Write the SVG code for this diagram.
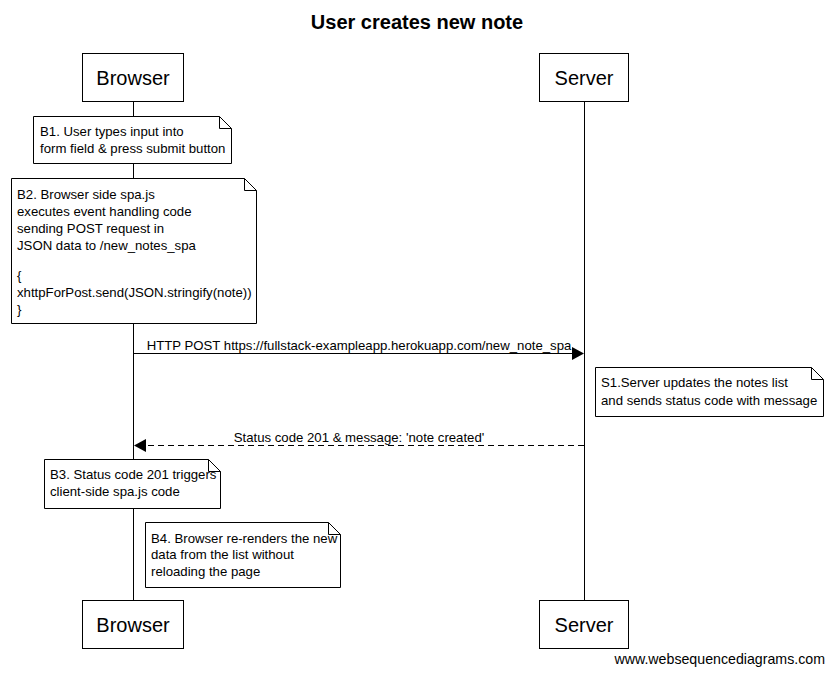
<svg xmlns="http://www.w3.org/2000/svg" width="833" height="673" viewBox="0 0 833 673">
<defs>
<style>
text{font-family:"Liberation Sans",Arial,sans-serif;fill:#000}
.title{font-size:20px;font-weight:bold;text-anchor:middle}
.actor rect{fill:#fff;stroke:#000;stroke-width:1}
.actor text{font-size:20px;text-anchor:middle}
.note path{fill:#fff;stroke:#000;stroke-width:1}
.note text{font-size:13.2px}
.life{stroke:#000;stroke-width:1}
.msg{stroke:#000;stroke-width:1;fill:none}
.dash{stroke-dasharray:6,4}
.lbl{font-size:13.2px;text-anchor:middle}
.wm{font-size:14.2px;text-anchor:end}
</style>
</defs>
<rect width="833" height="673" fill="#fff"/>
<text class="title" x="417" y="29">User creates new note</text>

<g id="lifelines">
<line class="life" x1="133.5" y1="102" x2="133.5" y2="600"/>
<line class="life" x1="584.5" y1="102" x2="584.5" y2="600"/>
</g>

<g id="browser-top" class="actor"><rect x="82.5" y="53.5" width="101" height="48"/><text x="133" y="85">Browser</text></g>
<g id="server-top" class="actor"><rect x="539.5" y="53.5" width="89" height="48"/><text x="584" y="85">Server</text></g>
<g id="browser-bottom" class="actor"><rect x="82.5" y="600.5" width="101" height="48"/><text x="133" y="632">Browser</text></g>
<g id="server-bottom" class="actor"><rect x="539.5" y="600.5" width="89" height="48"/><text x="584" y="632">Server</text></g>

<g id="note-b1" class="note">
<path d="M33.5,116.5 H219.5 L231.5,128.5 V163.5 H33.5 Z M219.5,116.5 V128.5 H231.5"/>
<text x="40" y="136">B1. User types input into</text>
<text x="40" y="153">form field &amp; press submit button</text>
</g>

<g id="note-b2" class="note">
<path d="M11.5,178.5 H244.5 L256.5,190.5 V323.5 H11.5 Z M244.5,178.5 V190.5 H256.5"/>
<text x="17" y="199">B2. Browser side spa.js</text>
<text x="17" y="216">executes event handling code</text>
<text x="17" y="233">sending POST request in</text>
<text x="17" y="250">JSON data to /new_notes_spa</text>
<text x="17" y="280">{</text>
<text x="17" y="297">xhttpForPost.send(JSON.stringify(note))</text>
<text x="17" y="314">}</text>
</g>

<g id="note-s1" class="note">
<path d="M595.5,367.5 H811.5 L823.5,379.5 V416.5 H595.5 Z M811.5,367.5 V379.5 H823.5"/>
<text x="601" y="387">S1.Server updates the notes list</text>
<text x="601" y="405">and sends status code with message</text>
</g>

<g id="note-b3" class="note">
<path d="M44.5,459.5 H208.5 L220.5,471.5 V508.5 H44.5 Z M208.5,459.5 V471.5 H220.5"/>
<text x="50" y="479">B3. Status code 201 triggers</text>
<text x="50" y="496">client-side spa.js code</text>
</g>

<g id="note-b4" class="note">
<path d="M145.5,522.5 H328.5 L340.5,534.5 V587.5 H145.5 Z M328.5,522.5 V534.5 H340.5"/>
<text x="151" y="543">B4. Browser re-renders the new</text>
<text x="151" y="559">data from the list without</text>
<text x="151" y="576">reloading the page</text>
</g>

<g id="connectors">
<line class="msg" x1="133" y1="353.5" x2="573" y2="353.5"/>
<polygon points="572,347 584,353.5 572,360" fill="#000"/>
<text class="lbl" x="359" y="350">HTTP POST https://fullstack-exampleapp.herokuapp.com/new_note_spa</text>
<line class="msg dash" x1="584" y1="445.5" x2="145" y2="445.5"/>
<polygon points="146,439 134,445.5 146,452" fill="#000"/>
<text class="lbl" x="359" y="442">Status code 201 &amp; message: 'note created'</text>
</g>

<text class="wm" x="825" y="664">www.websequencediagrams.com</text>
</svg>
